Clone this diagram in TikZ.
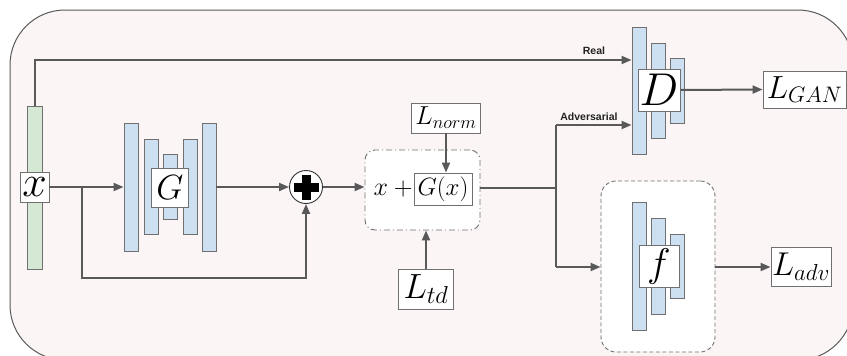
\RequirePackage{fix-cm}
\documentclass[tikz,border=0pt]{standalone}
\usepackage{fontspec}
\newfontfamily\labfont{Liberation Sans}
\usetikzlibrary{arrows.meta}
\definecolor{bgpink}{HTML}{FBF5F5}
\definecolor{barblue}{HTML}{CCE0F1}
\definecolor{bargreen}{HTML}{D5E8D4}
\definecolor{linegray}{HTML}{595959}
\definecolor{bargray}{HTML}{707070}
\definecolor{labtext}{HTML}{222222}
\newcommand{\fs}[1]{\fontsize{#1}{#1}\selectfont}
\begin{document}
\begin{tikzpicture}[x=1pt,y=-1pt,
  line/.style={draw=linegray, line width=2pt},
  arr/.style={line, -{Triangle[length=10pt,width=8pt]}},
  bar/.style={rectangle, draw=bargray, fill=barblue, line width=0.9pt, minimum width=14pt, inner sep=0pt},
  lbox/.style={rectangle, draw=bargray, fill=white, line width=0.9pt, inner sep=0pt},
  tag/.style={font=\labfont\bfseries\fs{10.5}, text=labtext, inner sep=0pt},
  group/.style={draw=bargray, line width=0.9pt, fill=white, inner sep=0pt},
]
\useasboundingbox (0,0) rectangle (847,356);
\clip (0,0) rectangle (847,356);
\draw[draw=linegray, line width=1pt, fill=bgpink, rounded corners=55pt] (10,10) rectangle (853,360);

% input x
\node[bar, fill=bargreen, minimum width=15pt, minimum height=163pt] (xbar) at (34.5,187.5) {};

% generator G
\node[bar, minimum height=128pt] (g1) at (131,187) {};
\node[bar, minimum height=95pt] (g2) at (151,187) {};
\node[bar, minimum height=65pt] (g3) at (170,187) {};
\node[bar, minimum height=95pt] (g4) at (190,187) {};
\node[bar, minimum height=128pt] (g5) at (209,187) {};
\node[lbox, minimum width=37pt, minimum height=39pt, font=\fs{35}] (Gl) at (170,187.5) {$G$};

% plus
\node[circle, draw=black!80, fill=white, line width=0.9pt, minimum size=33pt, inner sep=0pt] (plus) at (306,187) {};
\fill[black] ([shift={(-12.5,-4.5)}]plus.center) rectangle ([shift={(12.5,4.5)}]plus.center);
\fill[black] ([shift={(-4.5,-12.5)}]plus.center) rectangle ([shift={(4.5,12.5)}]plus.center);

% sum box
\node[group, dash pattern=on 6pt off 3pt on 1pt off 3pt, rounded corners=10pt, minimum width=115pt, minimum height=80pt] (sumbox) at (422.5,190) {};
\node[inner sep=0pt, font=\fs{26}] (xplus) at (393,189) {$x\mskip\medmuskip+$};
\node[lbox, minimum width=58pt, minimum height=32pt, font=\fs{25}] (gx) at (443,189) {$G(x)$};
\node[lbox, minimum width=69pt, minimum height=30pt, font=\fs{26}] (Lnorm) at (446,118) {$L_{norm}$};
\node[lbox, minimum width=55pt, minimum height=40pt, font=\fs{35}] (Ltd) at (426,289) {$L_{td}$};

% discriminator D
\node[bar, minimum height=127pt] (d1) at (639,90.5) {};
\node[bar, minimum height=95pt] (d2) at (658,90.5) {};
\node[bar, minimum height=65pt] (d3) at (677,90.5) {};
\node[lbox, minimum width=42pt, minimum height=42pt, font=\fs{46}] (Dl) at (659,90) {$D$};
\node[lbox, minimum width=83pt, minimum height=37pt, font=\fs{32}] (LGAN) at (804.5,89.5) {$L_{GAN}$};

% classifier f
\node[group, dash pattern=on 4pt off 2.5pt, rounded corners=15pt, minimum width=114pt, minimum height=171pt] (fbox) at (658,266.5) {};
\node[bar, minimum height=128pt] (f1) at (639,266) {};
\node[bar, minimum height=96pt] (f2) at (658,266) {};
\node[bar, minimum height=64pt] (f3) at (677,266) {};
\node[lbox, minimum width=40pt, minimum height=42pt, font=\fs{40}] (fl) at (659,266) {$f$};
\node[lbox, minimum width=60pt, minimum height=39pt, font=\fs{33}] (Ladv) at (801,267) {$L_{adv}$};

% x label on top of bar
\node[lbox, minimum width=29pt, minimum height=30pt, font=\fs{44}] (xl) at (34.5,187) {$x$};

% connectors
\coordinate (jx) at (82,187);
\coordinate (jxb) at (82,278);
\coordinate (rt) at (34.5,60);
\coordinate (jo) at (556,188);
\coordinate (ja) at (556,125);
\coordinate (jf) at (556,267);

\draw[arr] (xl.east) -- (g1.west);
\draw[arr] (jx) -- (jxb) -| (plus.south);
\draw[arr] (g5.east) -- (plus.west);
\draw[arr] (plus.east) -- (sumbox.west |- plus.east);
\draw[arr] (Lnorm.south) -- (Lnorm.south |- gx.north);
\draw[arr] (Ltd.north) -- (Ltd.north |- sumbox.south);
\draw[line] (sumbox.east |- jo) -- (jo);
\draw[line] (ja) -- (jf);
\draw[arr] (ja) -- (ja -| d1.west);
\draw[arr] (jf) -- (fbox.west |- jf);
\draw[arr] (xbar.north) -- (rt) -- (rt -| d1.west);
\draw[arr] (Dl.east) -- (LGAN.west);
\draw[arr] (fbox.east |- Ladv.west) -- (Ladv.west);

\node[tag] (reall) at (594,51) {Real};
\node[tag] (advl) at (589,117) {Adversarial};
\end{tikzpicture}
\end{document}
